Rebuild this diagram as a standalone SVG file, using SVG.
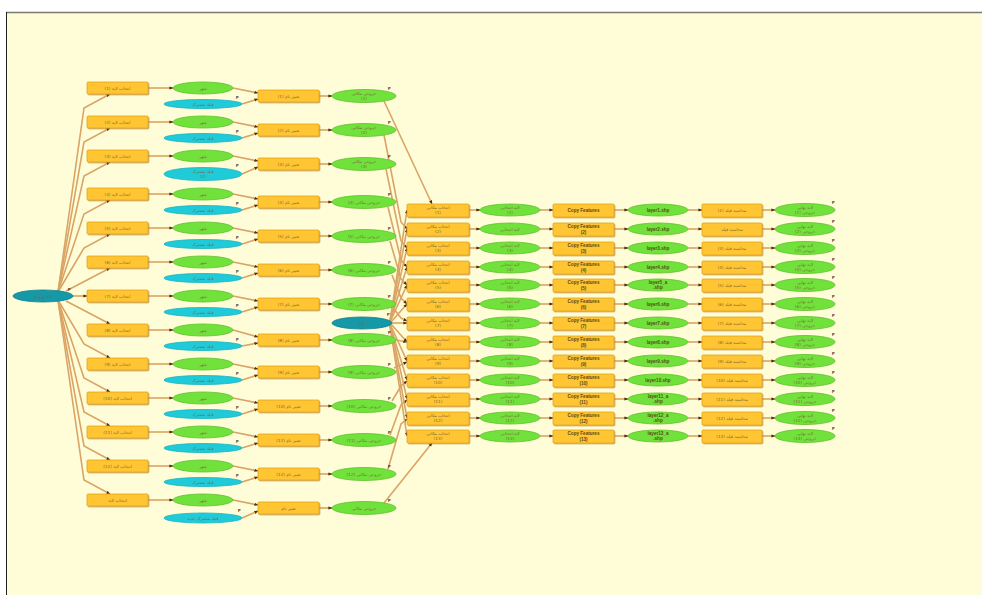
<svg xmlns="http://www.w3.org/2000/svg" width="982" height="595" viewBox="0 0 982 595">
<defs>
<marker id="ar" markerWidth="4" markerHeight="4" refX="3.6" refY="2" orient="auto" markerUnits="userSpaceOnUse"><path d="M0,0.4 L4,2 L0,3.6 Z" fill="#4a2e10"/></marker>
<filter id="sh" x="-10%" y="-30%" width="130%" height="180%"><feDropShadow dx="1" dy="1" stdDeviation="0.6" flood-color="#b07a20" flood-opacity="0.6"/></filter>
</defs>
<style>
.bg{fill:#fffdd8;stroke:none}
.r{fill:#ffc530;stroke:#e3a51e;stroke-width:0.8;filter:url(#sh)}
.g{fill:#71e23b;stroke:#5cbf2a;stroke-width:0.8}
.c{fill:#1fcbd9;stroke:#19b3c1;stroke-width:0.8}
.h{fill:#1598a8;stroke:#0e7f8c;stroke-width:0.8}
.t{font-family:"DejaVu Sans",sans-serif;font-size:4.2px;fill:#7a6a3a;text-anchor:middle}
.te{font-family:"Liberation Sans",Arial,sans-serif;font-size:4.6px;font-weight:bold;fill:#5a4a1a;text-anchor:middle}
.p{font-family:"Liberation Sans",Arial,sans-serif;font-size:4px;font-weight:bold;fill:#3a2a10}
#conn path{fill:none;stroke:#d9a465;stroke-width:1.6;marker-end:url(#ar)}
</style>
<rect x="0" y="0" width="982" height="595" fill="#ffffff"/>
<rect class="bg" x="6" y="12" width="976" height="583"/>
<line x1="6" y1="12.5" x2="982" y2="12.5" stroke="#7a7a72" stroke-width="1.6"/>
<line x1="6.5" y1="12" x2="6.5" y2="595" stroke="#222" stroke-width="1"/>

<g id="conn">
<path d="M58,292 L84,108 L110,94"/>
<path d="M58,292 L84,142 L110,128"/>
<path d="M58,292 L84,176 L110,162"/>
<path d="M58,292 L84,214 L110,200"/>
<path d="M58,292 L84,248 L110,234"/>
<path d="M66,291 L110,268"/>
<path d="M73,296 L87,296"/>
<path d="M66,301 L110,324"/>
<path d="M58,300 L84,344 L110,358"/>
<path d="M58,300 L84,378 L110,392"/>
<path d="M58,300 L84,412 L110,426"/>
<path d="M58,300 L84,446 L110,460"/>
<path d="M58,300 L84,480 L110,494"/>

<path d="M148,88 L173,88"/><path d="M148,122 L173,122"/><path d="M148,156 L173,156"/><path d="M148,194 L173,194"/><path d="M148,228 L173,228"/><path d="M148,262 L173,262"/><path d="M148,296 L173,296"/><path d="M148,330 L173,330"/><path d="M148,364 L173,364"/><path d="M148,398 L173,398"/><path d="M148,432 L173,432"/><path d="M148,466 L173,466"/><path d="M148,500 L173,500"/>

<path d="M233,88 L258,93"/><path d="M233,122 L258,127"/><path d="M233,156 L258,161"/><path d="M233,194 L258,199"/><path d="M233,228 L258,233"/><path d="M233,262 L258,267"/><path d="M233,296 L258,301"/><path d="M233,330 L258,337"/><path d="M233,364 L258,369"/><path d="M233,398 L258,403"/><path d="M233,432 L258,437"/><path d="M233,466 L258,471"/><path d="M233,500 L258,505"/>

<path d="M242,104 L258,99"/><path d="M242,138 L258,133"/><path d="M242,174 L258,167"/><path d="M242,210 L258,205"/><path d="M242,244 L258,239"/><path d="M242,278 L258,273"/><path d="M242,312 L258,307"/><path d="M242,346 L258,343"/><path d="M242,380 L258,375"/><path d="M242,414 L258,409"/><path d="M242,448 L258,443"/><path d="M242,482 L258,477"/><path d="M242,518 L258,511"/>

<path d="M319,96 L332,96"/><path d="M319,130 L332,130"/><path d="M319,164 L332,164"/><path d="M319,202 L332,202"/><path d="M319,236 L332,236"/><path d="M319,270 L332,270"/><path d="M319,304 L332,304"/><path d="M319,340 L332,340"/><path d="M319,372 L332,372"/><path d="M319,406 L332,406"/><path d="M319,440 L332,440"/><path d="M319,474 L332,474"/><path d="M319,508 L332,508"/>

<path d="M384,101 L432,204"/>
<path d="M384,135 L401,222 L407,229"/>
<path d="M386,169 L401,241 L407,248"/>
<path d="M388,207 L401,260 L407,267"/>
<path d="M390,241 L401,279 L407,285"/>
<path d="M392,275 L401,298 L407,304"/>
<path d="M394,309 L401,318 L407,321"/>
<path d="M396,340 L407,342"/>
<path d="M394,368 L407,362"/>
<path d="M392,401 L401,386 L407,381"/>
<path d="M390,435 L401,405 L407,400"/>
<path d="M388,469 L401,424 L407,419"/>
<path d="M384,503 L432,443"/>

<path d="M390,321 L407,210"/><path d="M390,321 L407,229"/><path d="M390,321 L407,248"/><path d="M390,322 L407,267"/><path d="M390,322 L407,285"/><path d="M391,322 L407,304"/><path d="M392,323 L407,323"/><path d="M391,324 L407,342"/><path d="M390,324 L407,361"/><path d="M390,325 L407,380"/><path d="M390,325 L407,399"/><path d="M390,326 L407,418"/><path d="M390,326 L407,436"/>

<path d="M469,210 L480,210"/><path d="M469,229 L480,229"/><path d="M469,248 L480,248"/><path d="M469,267 L480,267"/><path d="M469,285 L480,285"/><path d="M469,304 L480,304"/><path d="M469,323 L480,323"/><path d="M469,342 L480,342"/><path d="M469,361 L480,361"/><path d="M469,380 L480,380"/><path d="M469,399 L480,399"/><path d="M469,418 L480,418"/><path d="M469,436 L480,436"/>
<path d="M540,210 L553,210"/><path d="M540,229 L553,229"/><path d="M540,248 L553,248"/><path d="M540,267 L553,267"/><path d="M540,285 L553,285"/><path d="M540,304 L553,304"/><path d="M540,323 L553,323"/><path d="M540,342 L553,342"/><path d="M540,361 L553,361"/><path d="M540,380 L553,380"/><path d="M540,399 L553,399"/><path d="M540,418 L553,418"/><path d="M540,436 L553,436"/>
<path d="M614,210 L628,210"/><path d="M614,229 L628,229"/><path d="M614,248 L628,248"/><path d="M614,267 L628,267"/><path d="M614,285 L628,285"/><path d="M614,304 L628,304"/><path d="M614,323 L628,323"/><path d="M614,342 L628,342"/><path d="M614,361 L628,361"/><path d="M614,380 L628,380"/><path d="M614,399 L628,399"/><path d="M614,418 L628,418"/><path d="M614,436 L628,436"/>
<path d="M688,210 L702,210"/><path d="M688,229 L702,229"/><path d="M688,248 L702,248"/><path d="M688,267 L702,267"/><path d="M688,285 L702,285"/><path d="M688,304 L702,304"/><path d="M688,323 L702,323"/><path d="M688,342 L702,342"/><path d="M688,361 L702,361"/><path d="M688,380 L702,380"/><path d="M688,399 L702,399"/><path d="M688,418 L702,418"/><path d="M688,436 L702,436"/>
<path d="M762,210 L775,210"/><path d="M762,229 L775,229"/><path d="M762,248 L775,248"/><path d="M762,267 L775,267"/><path d="M762,285 L775,285"/><path d="M762,304 L775,304"/><path d="M762,323 L775,323"/><path d="M762,342 L775,342"/><path d="M762,361 L775,361"/><path d="M762,380 L775,380"/><path d="M762,399 L775,399"/><path d="M762,418 L775,418"/><path d="M762,436 L775,436"/>
</g>

<g id="hub-input"><ellipse class="h" cx="43" cy="296" rx="30" ry="6"/><text class="t" x="43" y="297.5">لایه ورودی</text><text class="p" x="68" y="291">P</text></g>
<g id="hub-layer"><ellipse class="h" cx="362" cy="323" rx="30" ry="6"/><text class="t" x="362" y="324.5">لایه</text><text class="p" x="387" y="316">P</text></g>

<g id="a1"><rect class="r" x="87" y="82" width="61" height="12" rx="1"/><text class="t" x="117.5" y="89.5">انتخاب لایه (1)</text></g>
<g id="a2"><rect class="r" x="87" y="116" width="61" height="12" rx="1"/><text class="t" x="117.5" y="123.5">انتخاب لایه (2)</text></g>
<g id="a3"><rect class="r" x="87" y="150" width="61" height="12" rx="1"/><text class="t" x="117.5" y="157.5">انتخاب لایه (3)</text></g>
<g id="a4"><rect class="r" x="87" y="188" width="61" height="12" rx="1"/><text class="t" x="117.5" y="195.5">انتخاب لایه (4)</text></g>
<g id="a5"><rect class="r" x="87" y="222" width="61" height="12" rx="1"/><text class="t" x="117.5" y="229.5">انتخاب لایه (5)</text></g>
<g id="a6"><rect class="r" x="87" y="256" width="61" height="12" rx="1"/><text class="t" x="117.5" y="263.5">انتخاب لایه (6)</text></g>
<g id="a7"><rect class="r" x="87" y="290" width="61" height="12" rx="1"/><text class="t" x="117.5" y="297.5">انتخاب لایه (7)</text></g>
<g id="a8"><rect class="r" x="87" y="324" width="61" height="12" rx="1"/><text class="t" x="117.5" y="331.5">انتخاب لایه (8)</text></g>
<g id="a9"><rect class="r" x="87" y="358" width="61" height="12" rx="1"/><text class="t" x="117.5" y="365.5">انتخاب لایه (9)</text></g>
<g id="a10"><rect class="r" x="87" y="392" width="61" height="12" rx="1"/><text class="t" x="117.5" y="399.5">انتخاب لایه (10)</text></g>
<g id="a11"><rect class="r" x="87" y="426" width="61" height="12" rx="1"/><text class="t" x="117.5" y="433.5">انتخاب لایه (11)</text></g>
<g id="a12"><rect class="r" x="87" y="460" width="61" height="12" rx="1"/><text class="t" x="117.5" y="467.5">انتخاب لایه (12)</text></g>
<g id="a13"><rect class="r" x="87" y="494" width="61" height="12" rx="1"/><text class="t" x="117.5" y="501.5">انتخاب لایه</text></g>

<g id="b1"><ellipse class="g" cx="203" cy="88" rx="30" ry="6"/><text class="t" x="203" y="89.5">شهر</text></g>
<g id="b2"><ellipse class="g" cx="203" cy="122" rx="30" ry="6"/><text class="t" x="203" y="123.5">شهر</text></g>
<g id="b3"><ellipse class="g" cx="203" cy="156" rx="30" ry="6"/><text class="t" x="203" y="157.5">شهر</text></g>
<g id="b4"><ellipse class="g" cx="203" cy="194" rx="30" ry="6"/><text class="t" x="203" y="195.5">شهر</text></g>
<g id="b5"><ellipse class="g" cx="203" cy="228" rx="30" ry="6"/><text class="t" x="203" y="229.5">شهر</text></g>
<g id="b6"><ellipse class="g" cx="203" cy="262" rx="30" ry="6"/><text class="t" x="203" y="263.5">شهر</text></g>
<g id="b7"><ellipse class="g" cx="203" cy="296" rx="30" ry="6"/><text class="t" x="203" y="297.5">شهر</text></g>
<g id="b8"><ellipse class="g" cx="203" cy="330" rx="30" ry="6"/><text class="t" x="203" y="331.5">شهر</text></g>
<g id="b9"><ellipse class="g" cx="203" cy="364" rx="30" ry="6"/><text class="t" x="203" y="365.5">شهر</text></g>
<g id="b10"><ellipse class="g" cx="203" cy="398" rx="30" ry="6"/><text class="t" x="203" y="399.5">شهر</text></g>
<g id="b11"><ellipse class="g" cx="203" cy="432" rx="30" ry="6"/><text class="t" x="203" y="433.5">شهر</text></g>
<g id="b12"><ellipse class="g" cx="203" cy="466" rx="30" ry="6"/><text class="t" x="203" y="467.5">شهر</text></g>
<g id="b13"><ellipse class="g" cx="203" cy="500" rx="30" ry="6"/><text class="t" x="203" y="501.5">شهر</text></g>

<g id="c1"><ellipse class="c" cx="203" cy="104" rx="39" ry="4.5"/><text class="t" x="203" y="105.5">فیلد مشترک</text><text class="p" x="236" y="99">P</text></g>
<g id="c2"><ellipse class="c" cx="203" cy="138" rx="39" ry="4.5"/><text class="t" x="203" y="139.5">فیلد مشترک</text><text class="p" x="236" y="133">P</text></g>
<g id="c3"><ellipse class="c" cx="203" cy="174" rx="39" ry="6.5"/><text class="t" x="203" y="173">فیلد مشترک</text><text class="t" x="203" y="178">(2)</text><text class="p" x="236" y="167">P</text></g>
<g id="c4"><ellipse class="c" cx="203" cy="210" rx="39" ry="4.5"/><text class="t" x="203" y="211.5">فیلد مشترک</text><text class="p" x="236" y="205">P</text></g>
<g id="c5"><ellipse class="c" cx="203" cy="244" rx="39" ry="4.5"/><text class="t" x="203" y="245.5">فیلد مشترک</text><text class="p" x="236" y="239">P</text></g>
<g id="c6"><ellipse class="c" cx="203" cy="278" rx="39" ry="4.5"/><text class="t" x="203" y="279.5">فیلد مشترک</text><text class="p" x="236" y="273">P</text></g>
<g id="c7"><ellipse class="c" cx="203" cy="312" rx="39" ry="4.5"/><text class="t" x="203" y="313.5">فیلد مشترک</text><text class="p" x="236" y="307">P</text></g>
<g id="c8"><ellipse class="c" cx="203" cy="346" rx="39" ry="4.5"/><text class="t" x="203" y="347.5">فیلد مشترک</text><text class="p" x="236" y="341">P</text></g>
<g id="c9"><ellipse class="c" cx="203" cy="380" rx="39" ry="4.5"/><text class="t" x="203" y="381.5">فیلد مشترک</text><text class="p" x="236" y="375">P</text></g>
<g id="c10"><ellipse class="c" cx="203" cy="414" rx="39" ry="4.5"/><text class="t" x="203" y="415.5">فیلد مشترک</text><text class="p" x="236" y="409">P</text></g>
<g id="c11"><ellipse class="c" cx="203" cy="448" rx="39" ry="4.5"/><text class="t" x="203" y="449.5">فیلد مشترک</text><text class="p" x="236" y="443">P</text></g>
<g id="c12"><ellipse class="c" cx="203" cy="482" rx="39" ry="4.5"/><text class="t" x="203" y="483.5">فیلد مشترک</text><text class="p" x="236" y="477">P</text></g>
<g id="c13"><ellipse class="c" cx="203" cy="518" rx="39" ry="5"/><text class="t" x="203" y="519.5">فیلد مشترک جدید</text><text class="p" x="238" y="512">P</text></g>

<g id="d1"><rect class="r" x="258" y="90" width="61" height="12" rx="1"/><text class="t" x="288.5" y="97.5">تغییر نام (1)</text></g>
<g id="d2"><rect class="r" x="258" y="124" width="61" height="12" rx="1"/><text class="t" x="288.5" y="131.5">تغییر نام (2)</text></g>
<g id="d3"><rect class="r" x="258" y="158" width="61" height="12" rx="1"/><text class="t" x="288.5" y="165.5">تغییر نام (3)</text></g>
<g id="d4"><rect class="r" x="258" y="196" width="61" height="12" rx="1"/><text class="t" x="288.5" y="203.5">تغییر نام (4)</text></g>
<g id="d5"><rect class="r" x="258" y="230" width="61" height="12" rx="1"/><text class="t" x="288.5" y="237.5">تغییر نام (5)</text></g>
<g id="d6"><rect class="r" x="258" y="264" width="61" height="12" rx="1"/><text class="t" x="288.5" y="271.5">تغییر نام (6)</text></g>
<g id="d7"><rect class="r" x="258" y="298" width="61" height="12" rx="1"/><text class="t" x="288.5" y="305.5">تغییر نام (7)</text></g>
<g id="d8"><rect class="r" x="258" y="334" width="61" height="12" rx="1"/><text class="t" x="288.5" y="341.5">تغییر نام (8)</text></g>
<g id="d9"><rect class="r" x="258" y="366" width="61" height="12" rx="1"/><text class="t" x="288.5" y="373.5">تغییر نام (9)</text></g>
<g id="d10"><rect class="r" x="258" y="400" width="61" height="12" rx="1"/><text class="t" x="288.5" y="407.5">تغییر نام (10)</text></g>
<g id="d11"><rect class="r" x="258" y="434" width="61" height="12" rx="1"/><text class="t" x="288.5" y="441.5">تغییر نام (11)</text></g>
<g id="d12"><rect class="r" x="258" y="468" width="61" height="12" rx="1"/><text class="t" x="288.5" y="475.5">تغییر نام (12)</text></g>
<g id="d13"><rect class="r" x="258" y="502" width="61" height="12" rx="1"/><text class="t" x="288.5" y="509.5">تغییر نام</text></g>

<g id="e1"><ellipse class="g" cx="364" cy="96" rx="32" ry="6.5"/><text class="t" x="364" y="95">خروجی مکانی</text><text class="t" x="364" y="100">(1)</text><text class="p" x="388" y="90">P</text></g>
<g id="e2"><ellipse class="g" cx="364" cy="130" rx="32" ry="6.5"/><text class="t" x="364" y="129">خروجی مکانی</text><text class="t" x="364" y="134">(2)</text><text class="p" x="388" y="124">P</text></g>
<g id="e3"><ellipse class="g" cx="364" cy="164" rx="32" ry="6.5"/><text class="t" x="364" y="163">خروجی مکانی</text><text class="t" x="364" y="168">(3)</text><text class="p" x="388" y="158">P</text></g>
<g id="e4"><ellipse class="g" cx="364" cy="202" rx="32" ry="6.5"/><text class="t" x="364" y="203.5">خروجی مکانی (4)</text><text class="p" x="388" y="196">P</text></g>
<g id="e5"><ellipse class="g" cx="364" cy="236" rx="32" ry="6.5"/><text class="t" x="364" y="237.5">خروجی مکانی (5)</text><text class="p" x="388" y="230">P</text></g>
<g id="e6"><ellipse class="g" cx="364" cy="270" rx="32" ry="6.5"/><text class="t" x="364" y="271.5">خروجی مکانی (6)</text><text class="p" x="388" y="264">P</text></g>
<g id="e7"><ellipse class="g" cx="364" cy="304" rx="32" ry="6.5"/><text class="t" x="364" y="305.5">خروجی مکانی (7)</text><text class="p" x="388" y="298">P</text></g>
<g id="e8"><ellipse class="g" cx="364" cy="340" rx="32" ry="6.5"/><text class="t" x="364" y="341.5">خروجی مکانی (8)</text><text class="p" x="388" y="334">P</text></g>
<g id="e9"><ellipse class="g" cx="364" cy="372" rx="32" ry="6.5"/><text class="t" x="364" y="373.5">خروجی مکانی (9)</text><text class="p" x="388" y="366">P</text></g>
<g id="e10"><ellipse class="g" cx="364" cy="406" rx="32" ry="6.5"/><text class="t" x="364" y="407.5">خروجی مکانی (10)</text><text class="p" x="388" y="400">P</text></g>
<g id="e11"><ellipse class="g" cx="364" cy="440" rx="32" ry="6.5"/><text class="t" x="364" y="441.5">خروجی مکانی (11)</text><text class="p" x="388" y="434">P</text></g>
<g id="e12"><ellipse class="g" cx="364" cy="474" rx="32" ry="6.5"/><text class="t" x="364" y="475.5">خروجی مکانی (12)</text><text class="p" x="388" y="468">P</text></g>
<g id="e13"><ellipse class="g" cx="364" cy="508" rx="32" ry="6.5"/><text class="t" x="364" y="509.5">خروجی مکانی</text><text class="p" x="388" y="502">P</text></g>

<g id="f1"><rect class="r" x="407" y="204" width="62" height="13" rx="1"/><text class="t" x="438" y="209">انتخاب مکانی</text><text class="t" x="438" y="214">(1)</text></g>
<g id="f2"><rect class="r" x="407" y="223" width="62" height="13" rx="1"/><text class="t" x="438" y="228">انتخاب مکانی</text><text class="t" x="438" y="233">(2)</text></g>
<g id="f3"><rect class="r" x="407" y="242" width="62" height="13" rx="1"/><text class="t" x="438" y="247">انتخاب مکانی</text><text class="t" x="438" y="252">(3)</text></g>
<g id="f4"><rect class="r" x="407" y="261" width="62" height="13" rx="1"/><text class="t" x="438" y="266">انتخاب مکانی</text><text class="t" x="438" y="271">(4)</text></g>
<g id="f5"><rect class="r" x="407" y="279" width="62" height="13" rx="1"/><text class="t" x="438" y="284">انتخاب مکانی</text><text class="t" x="438" y="289">(5)</text></g>
<g id="f6"><rect class="r" x="407" y="298" width="62" height="13" rx="1"/><text class="t" x="438" y="303">انتخاب مکانی</text><text class="t" x="438" y="308">(6)</text></g>
<g id="f7"><rect class="r" x="407" y="317" width="62" height="13" rx="1"/><text class="t" x="438" y="322">انتخاب مکانی</text><text class="t" x="438" y="327">(7)</text></g>
<g id="f8"><rect class="r" x="407" y="336" width="62" height="13" rx="1"/><text class="t" x="438" y="341">انتخاب مکانی</text><text class="t" x="438" y="346">(8)</text></g>
<g id="f9"><rect class="r" x="407" y="355" width="62" height="13" rx="1"/><text class="t" x="438" y="360">انتخاب مکانی</text><text class="t" x="438" y="365">(9)</text></g>
<g id="f10"><rect class="r" x="407" y="374" width="62" height="13" rx="1"/><text class="t" x="438" y="379">انتخاب مکانی</text><text class="t" x="438" y="384">(10)</text></g>
<g id="f11"><rect class="r" x="407" y="393" width="62" height="13" rx="1"/><text class="t" x="438" y="398">انتخاب مکانی</text><text class="t" x="438" y="403">(11)</text></g>
<g id="f12"><rect class="r" x="407" y="412" width="62" height="13" rx="1"/><text class="t" x="438" y="417">انتخاب مکانی</text><text class="t" x="438" y="422">(12)</text></g>
<g id="f13"><rect class="r" x="407" y="430" width="62" height="13" rx="1"/><text class="t" x="438" y="435">انتخاب مکانی</text><text class="t" x="438" y="440">(13)</text></g>

<g id="g1"><ellipse class="g" cx="510" cy="210" rx="30" ry="6"/><text class="t" x="510" y="209">لایه انتخابی</text><text class="t" x="510" y="214">(1)</text></g>
<g id="g2"><ellipse class="g" cx="510" cy="229" rx="30" ry="6"/><text class="t" x="510" y="230.5">لایه انتخابی</text></g>
<g id="g3"><ellipse class="g" cx="510" cy="248" rx="30" ry="6"/><text class="t" x="510" y="247">لایه انتخابی</text><text class="t" x="510" y="252">(3)</text></g>
<g id="g4"><ellipse class="g" cx="510" cy="267" rx="30" ry="6"/><text class="t" x="510" y="266">لایه انتخابی</text><text class="t" x="510" y="271">(4)</text></g>
<g id="g5"><ellipse class="g" cx="510" cy="285" rx="30" ry="6"/><text class="t" x="510" y="284">لایه انتخابی</text><text class="t" x="510" y="289">(5)</text></g>
<g id="g6"><ellipse class="g" cx="510" cy="304" rx="30" ry="6"/><text class="t" x="510" y="303">لایه انتخابی</text><text class="t" x="510" y="308">(6)</text></g>
<g id="g7"><ellipse class="g" cx="510" cy="323" rx="30" ry="6"/><text class="t" x="510" y="322">لایه انتخابی</text><text class="t" x="510" y="327">(7)</text></g>
<g id="g8"><ellipse class="g" cx="510" cy="342" rx="30" ry="6"/><text class="t" x="510" y="341">لایه انتخابی</text><text class="t" x="510" y="346">(8)</text></g>
<g id="g9"><ellipse class="g" cx="510" cy="361" rx="30" ry="6"/><text class="t" x="510" y="360">لایه انتخابی</text><text class="t" x="510" y="365">(9)</text></g>
<g id="g10"><ellipse class="g" cx="510" cy="380" rx="30" ry="6"/><text class="t" x="510" y="379">لایه انتخابی</text><text class="t" x="510" y="384">(10)</text></g>
<g id="g11"><ellipse class="g" cx="510" cy="399" rx="30" ry="6"/><text class="t" x="510" y="398">لایه انتخابی</text><text class="t" x="510" y="403">(11)</text></g>
<g id="g12"><ellipse class="g" cx="510" cy="418" rx="30" ry="6"/><text class="t" x="510" y="417">لایه انتخابی</text><text class="t" x="510" y="422">(12)</text></g>
<g id="g13"><ellipse class="g" cx="510" cy="436" rx="30" ry="6"/><text class="t" x="510" y="435">لایه انتخابی</text><text class="t" x="510" y="440">(13)</text></g>

<g id="h1"><rect class="r" x="553" y="204" width="61" height="13" rx="1"/><text class="te" x="583.5" y="212">Copy Features</text></g>
<g id="h2"><rect class="r" x="553" y="223" width="61" height="13" rx="1"/><text class="te" x="583.5" y="228.3">Copy Features</text><text class="te" x="583.5" y="233.5">(2)</text></g>
<g id="h3"><rect class="r" x="553" y="242" width="61" height="13" rx="1"/><text class="te" x="583.5" y="247.3">Copy Features</text><text class="te" x="583.5" y="252.5">(3)</text></g>
<g id="h4"><rect class="r" x="553" y="261" width="61" height="13" rx="1"/><text class="te" x="583.5" y="266.3">Copy Features</text><text class="te" x="583.5" y="271.5">(4)</text></g>
<g id="h5"><rect class="r" x="553" y="279" width="61" height="13" rx="1"/><text class="te" x="583.5" y="284.3">Copy Features</text><text class="te" x="583.5" y="289.5">(5)</text></g>
<g id="h6"><rect class="r" x="553" y="298" width="61" height="13" rx="1"/><text class="te" x="583.5" y="303.3">Copy Features</text><text class="te" x="583.5" y="308.5">(6)</text></g>
<g id="h7"><rect class="r" x="553" y="317" width="61" height="13" rx="1"/><text class="te" x="583.5" y="322.3">Copy Features</text><text class="te" x="583.5" y="327.5">(7)</text></g>
<g id="h8"><rect class="r" x="553" y="336" width="61" height="13" rx="1"/><text class="te" x="583.5" y="341.3">Copy Features</text><text class="te" x="583.5" y="346.5">(8)</text></g>
<g id="h9"><rect class="r" x="553" y="355" width="61" height="13" rx="1"/><text class="te" x="583.5" y="360.3">Copy Features</text><text class="te" x="583.5" y="365.5">(9)</text></g>
<g id="h10"><rect class="r" x="553" y="374" width="61" height="13" rx="1"/><text class="te" x="583.5" y="379.3">Copy Features</text><text class="te" x="583.5" y="384.5">(10)</text></g>
<g id="h11"><rect class="r" x="553" y="393" width="61" height="13" rx="1"/><text class="te" x="583.5" y="398.3">Copy Features</text><text class="te" x="583.5" y="403.5">(11)</text></g>
<g id="h12"><rect class="r" x="553" y="412" width="61" height="13" rx="1"/><text class="te" x="583.5" y="417.3">Copy Features</text><text class="te" x="583.5" y="422.5">(12)</text></g>
<g id="h13"><rect class="r" x="553" y="430" width="61" height="13" rx="1"/><text class="te" x="583.5" y="435.3">Copy Features</text><text class="te" x="583.5" y="440.5">(13)</text></g>

<g id="i1"><ellipse class="g" cx="658" cy="210" rx="30" ry="6"/><text class="te" x="658" y="211.6">layer1.shp</text></g>
<g id="i2"><ellipse class="g" cx="658" cy="229" rx="30" ry="6"/><text class="te" x="658" y="230.6">layer2.shp</text></g>
<g id="i3"><ellipse class="g" cx="658" cy="248" rx="30" ry="6"/><text class="te" x="658" y="249.6">layer3.shp</text></g>
<g id="i4"><ellipse class="g" cx="658" cy="267" rx="30" ry="6"/><text class="te" x="658" y="268.6">layer4.shp</text></g>
<g id="i5"><ellipse class="g" cx="658" cy="285" rx="30" ry="6"/><text class="te" x="658" y="284">layer5_a</text><text class="te" x="658" y="289">.shp</text></g>
<g id="i6"><ellipse class="g" cx="658" cy="304" rx="30" ry="6"/><text class="te" x="658" y="305.6">layer6.shp</text></g>
<g id="i7"><ellipse class="g" cx="658" cy="323" rx="30" ry="6"/><text class="te" x="658" y="324.6">layer7.shp</text></g>
<g id="i8"><ellipse class="g" cx="658" cy="342" rx="30" ry="6"/><text class="te" x="658" y="343.6">layer8.shp</text></g>
<g id="i9"><ellipse class="g" cx="658" cy="361" rx="30" ry="6"/><text class="te" x="658" y="362.6">layer9.shp</text></g>
<g id="i10"><ellipse class="g" cx="658" cy="380" rx="30" ry="6"/><text class="te" x="658" y="381.6">layer10.shp</text></g>
<g id="i11"><ellipse class="g" cx="658" cy="399" rx="30" ry="6"/><text class="te" x="658" y="398">layer11_a</text><text class="te" x="658" y="403">.shp</text></g>
<g id="i12"><ellipse class="g" cx="658" cy="418" rx="30" ry="6"/><text class="te" x="658" y="417">layer12_a</text><text class="te" x="658" y="422">.shp</text></g>
<g id="i13"><ellipse class="g" cx="658" cy="436" rx="30" ry="6"/><text class="te" x="658" y="435">layer13_a</text><text class="te" x="658" y="440">.shp</text></g>

<g id="j1"><rect class="r" x="702" y="204" width="60" height="13" rx="1"/><text class="t" x="732" y="211.5">محاسبه فیلد (1)</text></g>
<g id="j2"><rect class="r" x="702" y="223" width="60" height="13" rx="1"/><text class="t" x="732" y="230.5">محاسبه فیلد</text></g>
<g id="j3"><rect class="r" x="702" y="242" width="60" height="13" rx="1"/><text class="t" x="732" y="249.5">محاسبه فیلد (3)</text></g>
<g id="j4"><rect class="r" x="702" y="261" width="60" height="13" rx="1"/><text class="t" x="732" y="268.5">محاسبه فیلد (4)</text></g>
<g id="j5"><rect class="r" x="702" y="279" width="60" height="13" rx="1"/><text class="t" x="732" y="286.5">محاسبه فیلد (5)</text></g>
<g id="j6"><rect class="r" x="702" y="298" width="60" height="13" rx="1"/><text class="t" x="732" y="305.5">محاسبه فیلد (6)</text></g>
<g id="j7"><rect class="r" x="702" y="317" width="60" height="13" rx="1"/><text class="t" x="732" y="324.5">محاسبه فیلد (7)</text></g>
<g id="j8"><rect class="r" x="702" y="336" width="60" height="13" rx="1"/><text class="t" x="732" y="343.5">محاسبه فیلد (8)</text></g>
<g id="j9"><rect class="r" x="702" y="355" width="60" height="13" rx="1"/><text class="t" x="732" y="362.5">محاسبه فیلد (9)</text></g>
<g id="j10"><rect class="r" x="702" y="374" width="60" height="13" rx="1"/><text class="t" x="732" y="381.5">محاسبه فیلد (10)</text></g>
<g id="j11"><rect class="r" x="702" y="393" width="60" height="13" rx="1"/><text class="t" x="732" y="400.5">محاسبه فیلد (11)</text></g>
<g id="j12"><rect class="r" x="702" y="412" width="60" height="13" rx="1"/><text class="t" x="732" y="419.5">محاسبه فیلد (12)</text></g>
<g id="j13"><rect class="r" x="702" y="430" width="60" height="13" rx="1"/><text class="t" x="732" y="437.5">محاسبه فیلد (13)</text></g>

<g id="k1"><ellipse class="g" cx="805" cy="210" rx="30" ry="6.5"/><text class="t" x="805" y="209">لایه نهایی</text><text class="t" x="805" y="214">خروجی (1)</text><text class="p" x="832" y="204">P</text></g>
<g id="k2"><ellipse class="g" cx="805" cy="229" rx="30" ry="6.5"/><text class="t" x="805" y="228">لایه نهایی</text><text class="t" x="805" y="233">خروجی (2)</text><text class="p" x="832" y="223">P</text></g>
<g id="k3"><ellipse class="g" cx="805" cy="248" rx="30" ry="6.5"/><text class="t" x="805" y="247">لایه نهایی</text><text class="t" x="805" y="252">خروجی (3)</text><text class="p" x="832" y="242">P</text></g>
<g id="k4"><ellipse class="g" cx="805" cy="267" rx="30" ry="6.5"/><text class="t" x="805" y="266">لایه نهایی</text><text class="t" x="805" y="271">خروجی (4)</text><text class="p" x="832" y="261">P</text></g>
<g id="k5"><ellipse class="g" cx="805" cy="285" rx="30" ry="6.5"/><text class="t" x="805" y="284">لایه نهایی</text><text class="t" x="805" y="289">خروجی (5)</text><text class="p" x="832" y="279">P</text></g>
<g id="k6"><ellipse class="g" cx="805" cy="304" rx="30" ry="6.5"/><text class="t" x="805" y="303">لایه نهایی</text><text class="t" x="805" y="308">خروجی (6)</text><text class="p" x="832" y="298">P</text></g>
<g id="k7"><ellipse class="g" cx="805" cy="323" rx="30" ry="6.5"/><text class="t" x="805" y="322">لایه نهایی</text><text class="t" x="805" y="327">خروجی (7)</text><text class="p" x="832" y="317">P</text></g>
<g id="k8"><ellipse class="g" cx="805" cy="342" rx="30" ry="6.5"/><text class="t" x="805" y="341">لایه نهایی</text><text class="t" x="805" y="346">خروجی (8)</text><text class="p" x="832" y="336">P</text></g>
<g id="k9"><ellipse class="g" cx="805" cy="361" rx="30" ry="6.5"/><text class="t" x="805" y="360">لایه نهایی</text><text class="t" x="805" y="365">خروجی (9)</text><text class="p" x="832" y="355">P</text></g>
<g id="k10"><ellipse class="g" cx="805" cy="380" rx="30" ry="6.5"/><text class="t" x="805" y="379">لایه نهایی</text><text class="t" x="805" y="384">خروجی (10)</text><text class="p" x="832" y="374">P</text></g>
<g id="k11"><ellipse class="g" cx="805" cy="399" rx="30" ry="6.5"/><text class="t" x="805" y="398">لایه نهایی</text><text class="t" x="805" y="403">خروجی (11)</text><text class="p" x="832" y="393">P</text></g>
<g id="k12"><ellipse class="g" cx="805" cy="418" rx="30" ry="6.5"/><text class="t" x="805" y="417">لایه نهایی</text><text class="t" x="805" y="422">خروجی (12)</text><text class="p" x="832" y="412">P</text></g>
<g id="k13"><ellipse class="g" cx="805" cy="436" rx="30" ry="6.5"/><text class="t" x="805" y="435">لایه نهایی</text><text class="t" x="805" y="440">خروجی (13)</text><text class="p" x="832" y="430">P</text></g>
</svg>
